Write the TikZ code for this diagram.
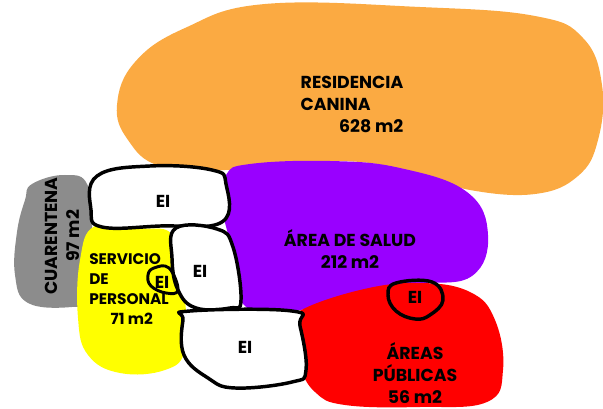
\documentclass[tikz,border=0pt]{standalone}
\usepackage{fontspec}
\setmainfont{Poppins}
\definecolor{orangeA}{HTML}{FBAA42}
\definecolor{purpleA}{HTML}{9900FF}
\definecolor{redA}{HTML}{FF0000}
\definecolor{yellowA}{HTML}{FFFF00}
\definecolor{grayA}{HTML}{8C8C8C}
\begin{document}
\begin{tikzpicture}[x=0.75pt,y=-0.75pt,
  blob/.style={smooth cycle,tension=0.7},
  eibox/.style={draw=black,line width=2.6pt,fill=white,line join=round},
  lbl/.style={font=\bfseries\fontsize{13}{16.5}\selectfont,align=center,inner sep=0pt},
  slbl/.style={font=\bfseries\fontsize{11.5}{15}\selectfont,align=left,inner sep=0pt},
  eilbl/.style={font=\bfseries\fontsize{13}{15}\selectfont,inner sep=0pt}]
\useasboundingbox (0,0) rectangle (603,409);
% orange
\fill[orangeA] plot[blob] coordinates {(117,105) (135,62) (185,28) (265,4) (420,7) (535,16) (583,38) (602,85) (598,140) (578,176) (535,194) (470,190) (420,174) (360,162) (290,163) (225,170) (160,166) (128,140)};
% purple
\fill[purpleA] plot[blob] coordinates {(226,175) (250,164) (330,161) (400,168) (467,192) (488,235) (472,276) (420,284) (360,292) (300,310) (245,306) (232,250) (222,205)};
% red
\fill[redA] plot[blob] coordinates {(298,312) (360,290) (420,283) (470,292) (495,320) (503,370) (487,402) (420,407) (345,405) (315,392) (300,365) (296,330)};
% gray
\fill[grayA] plot[blob] coordinates {(32,184) (65,175) (88,186) (92,240) (88,298) (72,307) (28,303) (15,275) (17,232) (25,200)};
% yellow
\fill[yellowA] plot[blob] coordinates {(95,226) (140,228) (175,238) (185,300) (185,350) (165,370) (120,373) (88,355) (78,318) (80,260)};
% EI boxes
\draw[eibox] plot[blob] coordinates {(97,176) (150,166) (212,170) (226,184) (222,222) (160,226) (102,227) (91,210)};
\draw[eibox] plot[blob] coordinates {(176,228) (217,229) (233,247) (241,300) (230,308) (196,308) (178,290) (172,258)};
\draw[eibox] plot[blob] coordinates {(190,311) (292,311) (300,326) (306,370) (292,382) (235,388) (208,378) (184,355) (183,320)};
\draw[eibox,fill=none,line width=2.2pt] plot[blob] coordinates {(154,268) (169,268) (178,290) (166,293) (151,286) (148,275)};
\draw[eibox,fill=none] plot[blob] coordinates {(396,283) (432,282) (443,300) (430,315) (415,319) (396,311) (388,295)};
% labels
\node[lbl,align=left] (res) at (352,106) {\begin{tabular}{@{}l@{}}RESIDENCIA\\CANINA\\\hfill 628 m2\end{tabular}};
\node[lbl] (sal) at (350,249) {ÁREA DE SALUD\\212 m2};
\node[lbl] (pub) at (415,373) {ÁREAS\\PÚBLICAS\\56 m2};
\node[lbl,rotate=90] (cua) at (62,236) {CUARENTENA\\97 m2};
\node[slbl,anchor=north west] (ser) at (89,253) {SERVICIO\\DE\\PERSONAL\\\hspace*{16pt}71 m2};
\node[eilbl] (ei1) at (163,201) {EI};
\node[eilbl] (ei2) at (200,271) {EI};
\node[eilbl] (ei3) at (245,347) {EI};
\node[eilbl] (ei4) at (162,282) {EI};
\node[eilbl] (ei5) at (415,297) {EI};
\end{tikzpicture}
\end{document}
